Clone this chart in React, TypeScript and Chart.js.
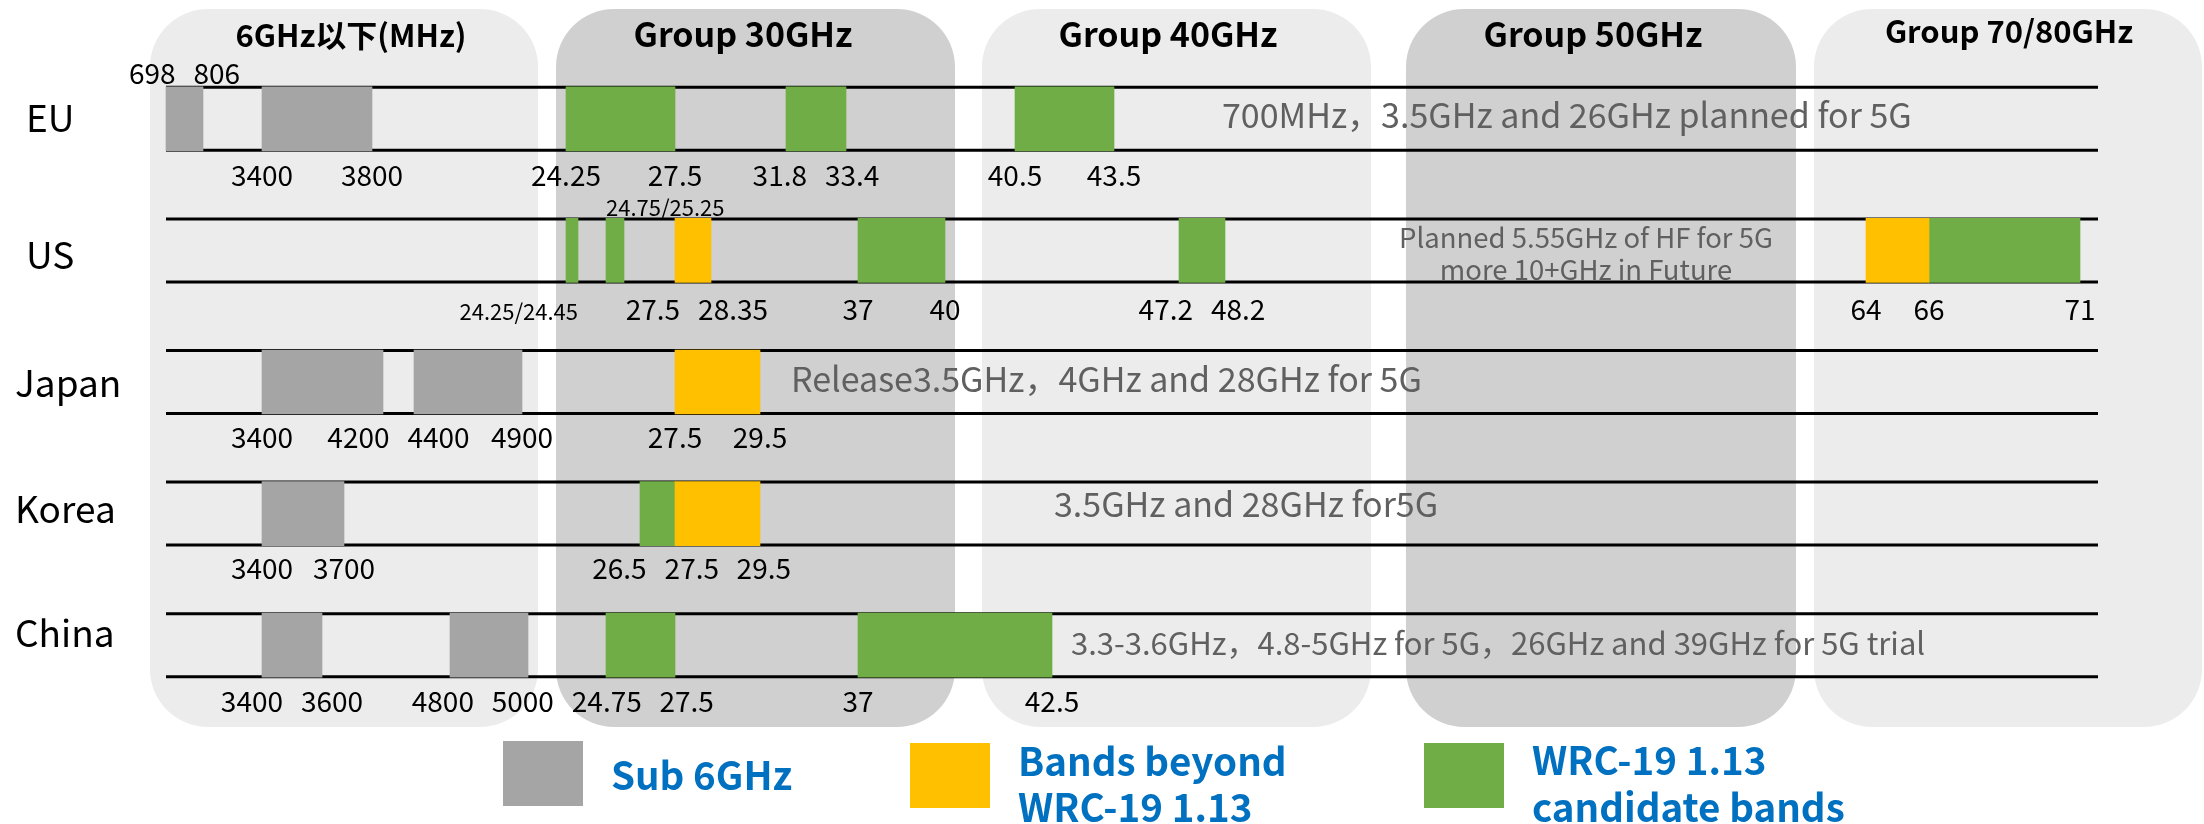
import React, { useEffect, useRef } from 'react';
import { Chart, registerables } from 'chart.js';

Chart.register(...registerables);

// Regions, one row each
const ROWS = ['EU', 'US', 'Japan', 'Korea', 'China'];

// Legend / series names
const SERIES = ['Sub 6GHz', 'Bands beyond\nWRC-19 1.13', 'WRC-19 1.13\ncandidate bands'];

// Bands as [region, from MHz, to MHz]
type Band = [string, number, number];
const SUB6_BANDS: Band[] = [
  ['EU', 698, 806],
  ['EU', 3400, 3800],
  ['Japan', 3400, 4200],
  ['Japan', 4400, 4900],
  ['Korea', 3400, 3700],
  ['China', 3400, 3600],
  ['China', 4800, 5000],
];
const BEYOND_BANDS: Band[] = [
  ['US', 27500, 28350],
  ['US', 64000, 66000],
  ['Japan', 27500, 29500],
  ['Korea', 27500, 29500],
];
const CANDIDATE_BANDS: Band[] = [
  ['EU', 24250, 27500],
  ['EU', 31800, 33400],
  ['EU', 40500, 43500],
  ['US', 24250, 24450],
  ['US', 24750, 25250],
  ['US', 37000, 40000],
  ['US', 47200, 48200],
  ['US', 66000, 71000],
  ['Korea', 26500, 27500],
  ['China', 24750, 27500],
  ['China', 37000, 42500],
];

// Edge labels under each row (MHz below 6 GHz, GHz above)
const EDGE_LABELS: Record<string, string[]> = {
  EU: ['3400', '3800', '24.25', '27.5', '31.8', '33.4', '40.5', '43.5'],
  US: ['24.25/24.45', '27.5', '28.35', '37', '40', '47.2', '48.2', '64', '66', '71'],
  Japan: ['3400', '4200', '4400', '4900', '27.5', '29.5'],
  Korea: ['3400', '3700', '26.5', '27.5', '29.5'],
  China: ['3400', '3600', '4800', '5000', '24.75', '27.5', '37', '42.5'],
};
// Edge labels set above the row
const TOP_LABELS: Record<string, string[]> = {
  EU: ['698', '806'],
  US: ['24.75/25.25'],
};

// Per-region notes
const NOTES: Record<string, string[]> = {
  EU: ['700MHz，3.5GHz and 26GHz planned for 5G'],
  US: ['Planned 5.55GHz of HF for 5G', 'more 10+GHz in Future'],
  Japan: ['Release3.5GHz，4GHz and 28GHz for 5G'],
  Korea: ['3.5GHz and 28GHz for5G'],
  China: ['3.3-3.6GHz，4.8-5GHz for 5G，26GHz and 39GHz for 5G trial'],
};

// Frequency groups (background columns)
const GROUPS = ['6GHz以下(MHz)', 'Group 30GHz', 'Group 40GHz', 'Group 50GHz', 'Group 70/80GHz'];

// ---- Styling ----
const FONT = '"Noto Sans CJK SC", "Noto Sans", sans-serif';
const SERIES_COLORS = ['#a5a5a5', '#ffc000', '#70ad47'];
const BAR_THICKNESS = 64;
const ROW_HALF = 31.5;

// The band plan axis is schematic (not to scale): breakpoints of the
// frequency axis, in MHz, and where each sits along the track.
const AXIS_MHZ = [698, 806, 3400, 3600, 3700, 3800, 4200, 4400, 4800, 4900, 5000,
  24250, 24450, 24750, 25250, 26500, 27500, 28350, 29500, 31800, 33400, 37000,
  40000, 40500, 42500, 43500, 47200, 48200, 64000, 66000, 71000];
const AXIS_TRACK = [166, 203, 262, 322, 344, 372, 383, 414, 450, 522, 528,
  566, 578, 606, 624, 640, 675, 711, 760, 786, 846, 858,
  945, 1015, 1052, 1114, 1179, 1225, 1866, 1929, 2080];
const TRACK_MAX = 2204;
const LINE_FROM = 166;
const LINE_TO = 2098;

function track(mhz: number): number {
  if (mhz <= AXIS_MHZ[0]) return AXIS_TRACK[0];
  for (let i = 1; i < AXIS_MHZ.length; i++) {
    if (mhz <= AXIS_MHZ[i]) {
      const f = (mhz - AXIS_MHZ[i - 1]) / (AXIS_MHZ[i] - AXIS_MHZ[i - 1]);
      return AXIS_TRACK[i - 1] + f * (AXIS_TRACK[i] - AXIS_TRACK[i - 1]);
    }
  }
  return AXIS_TRACK[AXIS_TRACK.length - 1];
}

const toMHz = (v: number) => (v < 100 ? v * 1000 : v);
const labelValues = (text: string) => text.split('/').map((s) => toMHz(parseFloat(s)));

// Group columns: track span, shade, title style
const PANEL_LAYOUT = [
  { from: 150, to: 538, fill: '#ececec', titleX: 351, size: 31, base: 47 },
  { from: 556, to: 955, fill: '#d0d0d0', titleX: 743, size: 34, base: 47 },
  { from: 982, to: 1371, fill: '#ececec', titleX: 1168, size: 34, base: 47 },
  { from: 1406, to: 1796, fill: '#d0d0d0', titleX: 1593, size: 34, base: 47 },
  { from: 1814, to: 2202, fill: '#ececec', titleX: 2009, size: 31, base: 43 },
];
const PANEL_TOP = 9;
const PANEL_BOTTOM = 727;

const ROW_NAME_STYLE: Record<string, { x: number; dy: number }> = {
  EU: { x: 26, dy: 13 },
  US: { x: 26, dy: 19 },
  Japan: { x: 15, dy: 15 },
  Korea: { x: 15, dy: 9 },
  China: { x: 15, dy: 1.5 },
};

const NOTE_STYLE: Record<string, { x: number; align: CanvasTextAlign; size: number; dy: number[] }> = {
  EU: { x: 1222, align: 'left', size: 34, dy: [9] },
  US: { x: 1586, align: 'center', size: 27.5, dy: [-2.5, 29.5] },
  Japan: { x: 791, align: 'left', size: 34, dy: [10] },
  Korea: { x: 1054, align: 'left', size: 34, dy: [3] },
  China: { x: 1071, align: 'left', size: 31, dy: [9.5] },
};
const LABEL_OFFSET: number[] = [36, 38, 34, 34, 35];

const LEGEND_LAYOUT = [
  { x: 503, y: 741, baselines: [790] },
  { x: 910, y: 743, baselines: [776, 822] },
  { x: 1424, y: 743, baselines: [775, 822] },
];

type Item = { t: string; x: number; w: number };

// Push overlapping neighbours apart so edge labels stay legible
function spread(items: Item[], gap: number) {
  items.sort((a, b) => a.x - b.x);
  for (let iter = 0; iter < 60; iter++) {
    let moved = false;
    for (let i = 1; i < items.length; i++) {
      const a = items[i - 1];
      const b = items[i];
      const need = (a.w + b.w) / 2 + gap - (b.x - a.x);
      if (need > 0.5) {
        a.x -= need / 2;
        b.x += need / 2;
        moved = true;
      }
    }
    if (!moved) break;
  }
}

const bandPlanPlugin = {
  id: 'bandPlan',
  beforeDraw(chart: any) {
    const ctx = chart.ctx as CanvasRenderingContext2D;
    ctx.save();
    ctx.fillStyle = '#ffffff';
    ctx.fillRect(0, 0, chart.width, chart.height);
    ctx.restore();
  },
  beforeDatasetsDraw(chart: any) {
    const ctx = chart.ctx as CanvasRenderingContext2D;
    const xs = chart.scales.x;
    const ys = chart.scales.y;
    ctx.save();
    // group columns
    PANEL_LAYOUT.forEach((p, i) => {
      const x0 = xs.getPixelForValue(p.from);
      const x1 = xs.getPixelForValue(p.to);
      ctx.fillStyle = p.fill;
      ctx.beginPath();
      (ctx as any).roundRect(x0, PANEL_TOP, x1 - x0, PANEL_BOTTOM - PANEL_TOP, 58);
      ctx.fill();
      ctx.fillStyle = '#000';
      ctx.font = `bold ${p.size}px ${FONT}`;
      ctx.textAlign = 'center';
      ctx.textBaseline = 'alphabetic';
      ctx.fillText(GROUPS[i], xs.getPixelForValue(p.titleX), p.base);
    });
    // row rails
    ctx.strokeStyle = '#000';
    ctx.lineWidth = 3;
    ROWS.forEach((_, i) => {
      const cy = ys.getPixelForValue(i);
      [cy - ROW_HALF, cy + ROW_HALF].forEach((y) => {
        ctx.beginPath();
        ctx.moveTo(xs.getPixelForValue(LINE_FROM), y);
        ctx.lineTo(xs.getPixelForValue(LINE_TO), y);
        ctx.stroke();
      });
    });
    ctx.restore();
  },
  afterDatasetsDraw(chart: any) {
    const ctx = chart.ctx as CanvasRenderingContext2D;
    const xs = chart.scales.x;
    const ys = chart.scales.y;
    ctx.save();
    ctx.textBaseline = 'alphabetic';

    const labelFont = (t: string) => (t.includes('/') ? `22px ${FONT}` : `28px ${FONT}`);
    // Paired labels ("a/b") sit beside their pair: below the rail they end
    // at the upper edge, above it they start at the lower edge.
    const drawEdgeLabels = (texts: string[], baseline: number, above: boolean) => {
      const items: Item[] = texts.map((t) => {
        ctx.font = labelFont(t);
        const w = ctx.measureText(t).width;
        const vals = labelValues(t);
        let x = xs.getPixelForValue(track(vals[0]));
        if (vals.length > 1) {
          x = above
            ? xs.getPixelForValue(track(vals[0])) + w / 2
            : xs.getPixelForValue(track(vals[vals.length - 1])) - w / 2;
        }
        return { t, x, w };
      });
      spread(items, 18);
      ctx.fillStyle = '#000';
      ctx.textAlign = 'center';
      items.forEach((it) => {
        ctx.font = labelFont(it.t);
        ctx.fillText(it.t, it.x, baseline);
      });
    };

    ROWS.forEach((row, i) => {
      const cy = ys.getPixelForValue(i);
      // region name
      const rs = ROW_NAME_STYLE[row];
      ctx.fillStyle = '#000';
      ctx.font = `37px ${FONT}`;
      ctx.textAlign = 'left';
      ctx.fillText(row, rs.x, cy + rs.dy);
      // band edges
      drawEdgeLabels(EDGE_LABELS[row] || [], cy + ROW_HALF + LABEL_OFFSET[i], false);
      if (TOP_LABELS[row]) drawEdgeLabels(TOP_LABELS[row], cy - ROW_HALF - 3, true);
      // note
      const ns = NOTE_STYLE[row];
      ctx.fillStyle = '#606060';
      ctx.font = `${ns.size}px ${FONT}`;
      ctx.textAlign = ns.align;
      NOTES[row].forEach((line, k) => {
        ctx.fillText(line, xs.getPixelForValue(ns.x), cy + ns.dy[k]);
      });
    });

    // legend
    chart.data.datasets.forEach((ds: any, i: number) => {
      const lg = LEGEND_LAYOUT[i];
      ctx.fillStyle = ds.backgroundColor;
      ctx.fillRect(lg.x, lg.y, 80, 65);
      ctx.fillStyle = '#0070c0';
      ctx.font = `bold 38.5px ${FONT}`;
      ctx.textAlign = 'left';
      String(ds.label).split('\n').forEach((line, k) => {
        ctx.fillText(line, lg.x + 108, lg.baselines[k]);
      });
    });
    ctx.restore();
  },
};

export default function App() {
  const ref = useRef<HTMLCanvasElement>(null);
  useEffect(() => {
    document.body.style.margin = '0';
    const canvas = ref.current;
    if (!canvas) return;
    const bandSets = [SUB6_BANDS, BEYOND_BANDS, CANDIDATE_BANDS];
    const chart = new Chart(canvas, {
      type: 'bar',
      data: {
        labels: ROWS,
        datasets: SERIES.map((name, i) => ({
          label: name,
          data: bandSets[i].map(([row, from, to]) => ({ y: row, x: [track(from), track(to)] })) as any,
          backgroundColor: SERIES_COLORS[i],
          borderWidth: 0,
          barThickness: BAR_THICKNESS,
          grouped: false,
        })),
      },
      options: {
        indexAxis: 'y',
        responsive: false,
        devicePixelRatio: 1,
        animation: false,
        layout: { padding: { top: 53, bottom: 113, left: 0, right: 0 } },
        scales: {
          x: { type: 'linear', min: 0, max: TRACK_MAX, display: false },
          y: { type: 'category', display: false, offset: true },
        },
        plugins: { legend: { display: false }, tooltip: { enabled: false } },
      },
      plugins: [bandPlanPlugin],
    } as any);
    return () => chart.destroy();
  }, []);
  return (
    <div style={{ position: 'absolute', left: 0, top: 0, width: 2204, height: 824, overflow: 'hidden' }}>
      <canvas ref={ref} width={2204} height={824} style={{ display: 'block' }} />
    </div>
  );
}
